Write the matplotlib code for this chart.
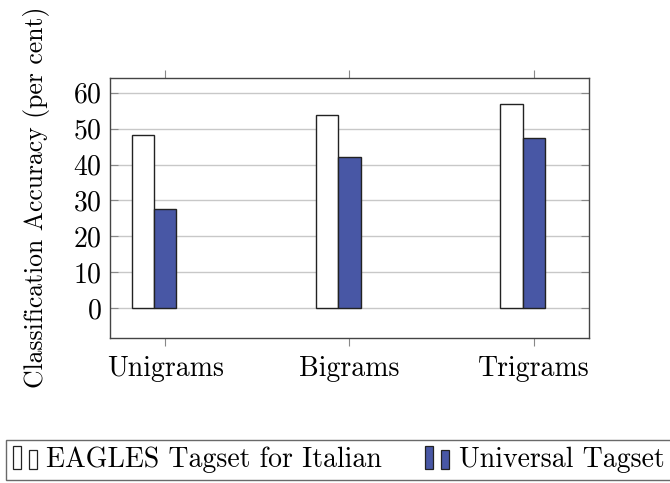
import numpy as np
import matplotlib.pyplot as plt
from matplotlib.patches import Patch, Rectangle
from matplotlib.legend_handler import HandlerBase

plt.rcParams['font.family'] = 'serif'
plt.rcParams['font.serif'] = ['cmr10', 'DejaVu Serif']
plt.rcParams['axes.formatter.use_mathtext'] = True

categories = ['Unigrams', 'Bigrams', 'Trigrams']
eagles = [48.2, 53.9, 56.8]
universal = [27.6, 42.0, 47.3]
series_names = ['EAGLES Tagset for Italian', 'Universal Tagset']

blue = '#4857a5'
edge = '#222222'
fs = 20


class TwoBars(HandlerBase):
    # pgfplots-style ybar legend image: two small bars
    def create_artists(self, legend, orig_handle, xd, yd, w, h, fontsize, trans):
        fc = orig_handle.get_facecolor()
        ec = orig_handle.get_edgecolor()
        x0, y0 = -xd, -yd - 0.1 * h
        r1 = Rectangle((x0, y0), 0.34 * w, 1.2 * h, facecolor=fc, edgecolor=ec,
                       linewidth=0.9, transform=trans)
        r2 = Rectangle((x0 + 0.66 * w, y0), 0.34 * w, 1.0 * h, facecolor=fc,
                       edgecolor=ec, linewidth=0.9, transform=trans)
        return [r1, r2]


fig = plt.figure(figsize=(6.7, 4.83), dpi=100)
ax = fig.add_axes([0.164, 0.300, 0.715, 0.539])

x = np.arange(len(categories))
w = 0.121
ax.bar(x - w, eagles, w, facecolor='white', edgecolor=edge, linewidth=1.0, zorder=3)
ax.bar(x, universal, w, facecolor=blue, edgecolor=edge, linewidth=1.0, zorder=3)

ax.set_xlim(-0.30, 2.30)
ax.set_ylim(-8.4, 64.2)
ax.set_yticks(np.arange(0, 61, 10))
ax.set_xticks(x)
ax.set_xticklabels(categories)
ax.yaxis.grid(True, color='#c8c8c8', linewidth=1.0, zorder=0)
ax.tick_params(axis='y', direction='in', right=True, length=6, color='#888888', labelsize=fs, pad=6)
ax.tick_params(axis='x', direction='out', top=True, length=6, color='#888888', labelsize=fs, pad=7)
for s in ax.spines.values():
    s.set_color('#444444')
    s.set_linewidth(1.0)
ax.set_ylabel('Classification Accuracy (per cent)', fontsize=18.5)
ax.yaxis.set_label_coords(-0.125, 0.54)

handles = [Patch(facecolor='white', edgecolor=edge), Patch(facecolor=blue, edgecolor=edge)]
leg = fig.legend(handles, series_names, loc='upper left', bbox_to_anchor=(6 / 670, 1 - 440 / 483),
                 ncol=2, fontsize=fs, frameon=True, fancybox=False, borderpad=0.25,
                 borderaxespad=0, handlelength=0.85, handletextpad=0.35, columnspacing=1.55,
                 handler_map={Patch: TwoBars()})
leg.get_frame().set_edgecolor('#444444')
leg.get_frame().set_linewidth(1.0)

fig.savefig('out.png', dpi=100)
